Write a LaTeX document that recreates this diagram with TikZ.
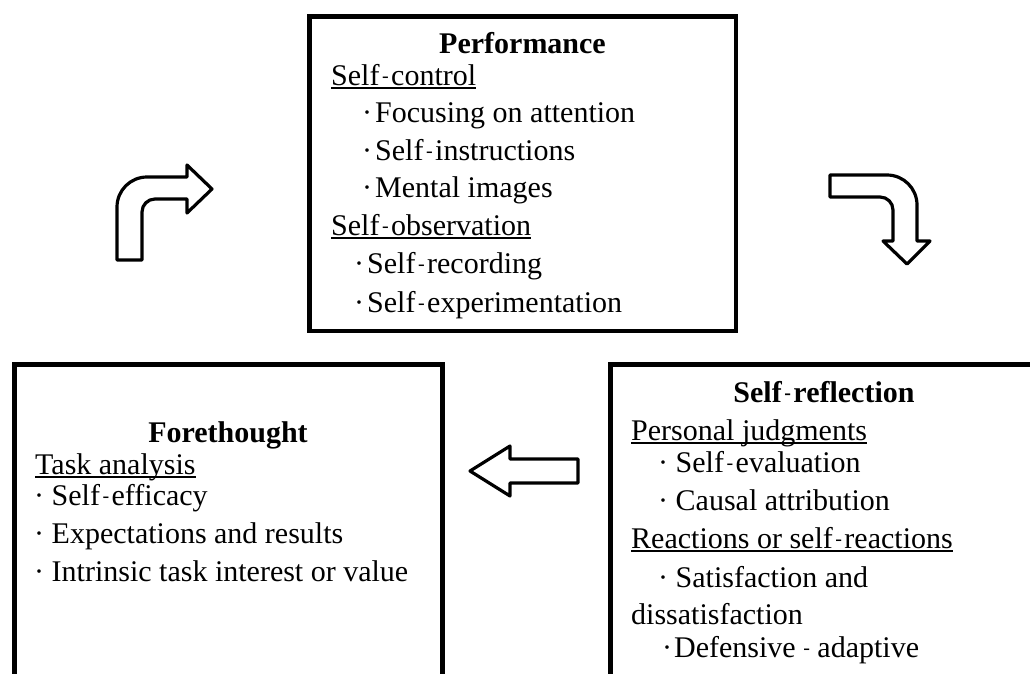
\documentclass[tikz,border=0pt]{standalone}
\usepackage{fontspec}
\setmainfont{Liberation Serif}
\newcommand\hy{\kern2.5pt\raisebox{2.5pt}{\fontsize{20}{20}\selectfont -}\kern2.5pt}
\newcommand\ulx[1]{\setbox0\hbox{#1}\leavevmode\rlap{\raisebox{-3.6pt}{\rule{\wd0}{1.3pt}}}\box0}
\begin{document}
\begin{tikzpicture}[x=1pt,y=-1pt,
  box/.style={draw, line width=4.5pt, rectangle, inner sep=0pt},
  txt/.style={inner sep=0pt, anchor=base west, font=\fontsize{30}{36}\selectfont},
  ttl/.style={inner sep=0pt, anchor=base, font=\fontsize{30}{36}\selectfont\bfseries},
  blockarrow/.style={draw, line width=3.2pt, line join=round, fill=white}]
\useasboundingbox (0,0) rectangle (1030,673);
\clip (0,0) rectangle (1030,673);

% boxes
\node[box, minimum width=426.5pt, minimum height=314.5pt] (perf) at (522.5,173.5) {};
\node[box, minimum width=428pt, minimum height=336pt] (fore) at (228.25,532.25) {};
\node[box, minimum width=429.5pt, minimum height=336pt] (refl) at (825.25,532.25) {};

% Performance
\node[ttl] (pt) at (522.5,53) {Performance};
\node[txt] (p1) at (331,85) {\ulx{Self\hy control}};
\node[txt] (p2) at (362,122) {·\kern3pt Focusing on attention};
\node[txt] (p3) at (362,160) {·\kern3pt Self\hy instructions};
\node[txt] (p4) at (362,197) {·\kern3pt Mental images};
\node[txt] (p5) at (331,235) {\ulx{Self\hy observation}};
\node[txt] (p6) at (354,273) {·\kern3pt Self\hy recording};
\node[txt] (p7) at (354,312) {·\kern3pt Self\hy experimentation};

% Forethought
\node[ttl] (ft) at (228,442) {Forethought};
\node[txt] (f1) at (35,474) {\ulx{Task analysis}};
\node[txt] (f2) at (34,505) {· Self\hy efficacy};
\node[txt] (f3) at (34,543) {· Expectations and results};
\node[txt] (f4) at (34,581) {· Intrinsic task interest or value};

% Self-reflection
\node[ttl] (rt) at (824,402) {Self\hy reflection};
\node[txt] (r1) at (631,440) {\ulx{Personal judgments}};
\node[txt] (r2) at (658,472) {· Self\hy evaluation};
\node[txt] (r3) at (658,510) {· Causal attribution};
\node[txt] (r4) at (631,548) {\ulx{Reactions or self\hy reactions}};
\node[txt] (r5) at (658,587) {· Satisfaction and};
\node[txt] (r6) at (631,624) {dissatisfaction};
\node[txt] (r7) at (662,657) {·\kern2pt Defensive \raisebox{2.5pt}{\fontsize{20}{20}\selectfont -} adaptive};

% bent arrow up-right
\draw[blockarrow] (117,260) -- (117,207) .. controls (117,190.4) and (130.4,177) .. (147,177)
  -- (187,177) -- (187,165) -- (212,189) -- (187,213) -- (187,199)
  -- (155,199) .. controls (147.8,199) and (142,204.8) .. (142,212) -- (142,260) -- cycle;

% bent arrow right-down
\draw[blockarrow] (830,175) -- (887,175) .. controls (903.6,175) and (917,188.4) .. (917,205)
  -- (917,241) -- (930,241) -- (907,264) -- (883,241) -- (893,241)
  -- (893,210) .. controls (893,202.8) and (887.2,197) .. (880,197) -- (830,197) -- cycle;

% left arrow
\draw[blockarrow] (578,459) -- (510,459) -- (510,446) -- (470,471) -- (510,496) -- (510,483) -- (578,483) -- cycle;
\end{tikzpicture}
\end{document}
